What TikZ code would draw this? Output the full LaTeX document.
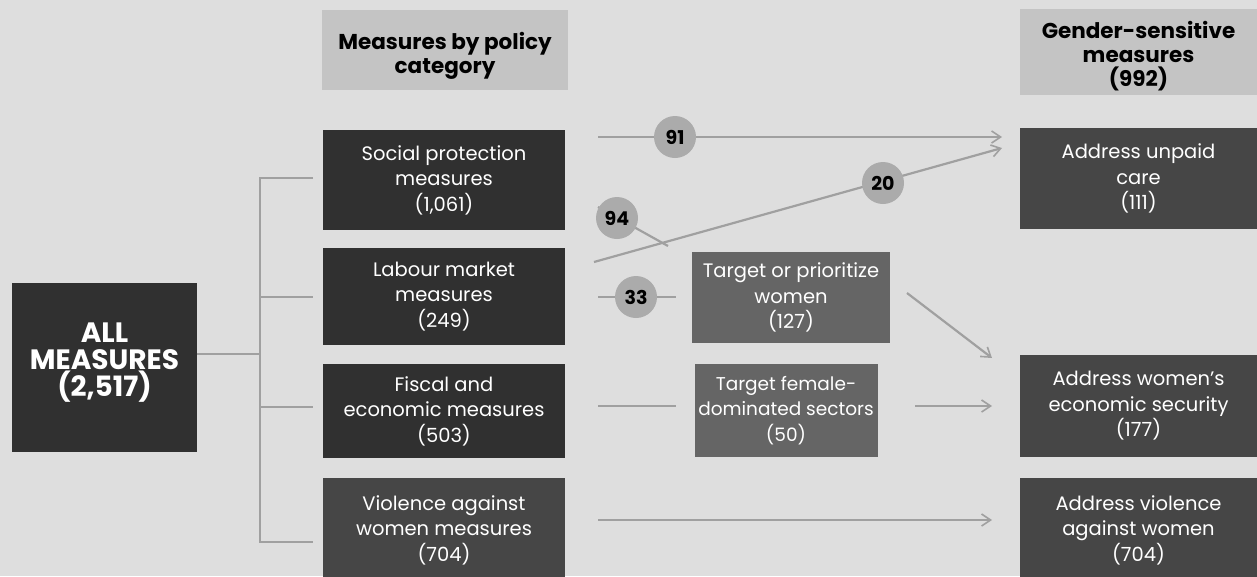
\documentclass[tikz,border=0pt]{standalone}
\usepackage{fontspec}
\setmainfont{Poppins}
\usetikzlibrary{arrows.meta,calc}
\definecolor{bgc}{HTML}{DEDEDE}
\definecolor{hdrc}{HTML}{C4C4C4}
\definecolor{darkc}{HTML}{303030}
\definecolor{midc}{HTML}{464646}
\definecolor{lightc}{HTML}{656565}
\definecolor{linec}{HTML}{A0A0A0}
\definecolor{circc}{HTML}{ABABAB}
\tikzset{
  box/.style={fill=#1, text=white, align=center, inner sep=0pt, font=\fontsize{19.5}{25.5}\selectfont},
  hdr/.style={fill=hdrc, text=black, align=center, inner sep=0pt, font=\bfseries\fontsize{21.5}{24}\selectfont},
  conn/.style={draw=linec, line width=2.2pt},
  arr/.style={conn, -{Straight Barb[length=9pt,width=12pt,line width=1.6pt]}},
  num/.style={circle, fill=circc, minimum size=42pt, inner sep=0pt, font=\bfseries\fontsize{19}{19}\selectfont, text=black}
}
\begin{document}
\begin{tikzpicture}[x=1pt,y=-1pt]
\useasboundingbox (0,0) rectangle (1257,576);
\fill[bgc] (0,0) rectangle (1257,576);

% column 1
\node[box=darkc, minimum width=185pt, minimum height=169pt, font=\bfseries\fontsize{28}{27}\selectfont] (all) at (104.5,367.5) {ALL\\MEASURES\\(2,517)\\[-12pt]\mbox{}};

% column 2
\node[hdr, minimum width=246pt, minimum height=80pt] (h1) at (445,50) {\rule{0pt}{29pt}Measures by policy\\category};
\node[box=darkc, minimum width=242pt, minimum height=100pt] (sp) at (444,180) {Social protection\\measures\\(1,061)};
\node[box=darkc, minimum width=242pt, minimum height=97pt] (lm) at (444,296.5) {Labour market\\measures\\(249)};
\node[box=darkc, minimum width=242pt, minimum height=94pt] (fe) at (444,411) {Fiscal and\\economic measures\\(503)};
\node[box=midc, minimum width=242pt, minimum height=104pt] (vw) at (444,530) {Violence against\\women measures\\(704)};

% column 3
\node[box=lightc, minimum width=198pt, minimum height=91pt] (tp) at (791,297.5) {Target or prioritize\\women\\(127)};
\node[box=lightc, minimum width=183pt, minimum height=93pt, font=\fontsize{18.5}{25.5}\selectfont] (tf) at (786,410.5) {Target female-\\dominated sectors\\(50)};

% column 4
\node[hdr, minimum width=237pt, minimum height=86pt] (h2) at (1138.5,52) {\rule{0pt}{25pt}Gender-sensitive\\measures\\(992)};
\node[box=midc, minimum width=237pt, minimum height=101pt] (uc) at (1138.5,178.5) {Address unpaid\\care\\(111)};
\node[box=midc, minimum width=237pt, minimum height=102pt] (es) at (1138.5,406) {Address women's\\economic security\\(177)};
\node[box=midc, minimum width=237pt, minimum height=104pt] (av) at (1138.5,530) {Address violence\\against women\\(704)};

% bracket
\coordinate (bj) at (260,354);
\coordinate (bt) at (260,178);
\coordinate (bb) at (260,542);
\draw[conn, line width=1.6pt] (all.east |- bj) -- (bj);
\draw[conn, line width=1.6pt] (313,178) -- (bt) -- (bb) -- (313,542);
\draw[conn, line width=1.6pt] (260,297) -- (313,297);
\draw[conn, line width=1.6pt] (260,407) -- (313,407);

% flows
\coordinate (s91) at (598,137);
\coordinate (e91) at (1002,137);
\coordinate (s20) at (594,262);
\coordinate (e20) at (1002,148);
\coordinate (s94) at (598,207);
\coordinate (e94) at (668,246);
\coordinate (s33) at (598,297);
\coordinate (e33) at (676,297);
\coordinate (sfe) at (598,406);
\coordinate (efe) at (676,406);
\coordinate (stf) at (915,406);
\coordinate (etf) at (992,406);
\coordinate (stp) at (907,293);
\coordinate (etp) at (992,358);
\coordinate (svw) at (598,520);
\coordinate (evw) at (992,520);

\draw[arr] (s91) -- (e91);
\draw[arr] (s20) -- (e20);
\draw[conn] (s94) -- (e94);
\draw[conn] (s33) -- (e33);
\draw[conn] (sfe) -- (efe);
\draw[arr] (stf) -- (etf);
\draw[arr] (stp) -- (etp);
\draw[arr] (svw) -- (evw);

\node[num] (n91) at (675,137) {91};
\node[num] (n20) at (883,183) {20};
\node[num] (n94) at (617,218) {94};
\node[num] (n33) at (636,297) {33};
\end{tikzpicture}
\end{document}
